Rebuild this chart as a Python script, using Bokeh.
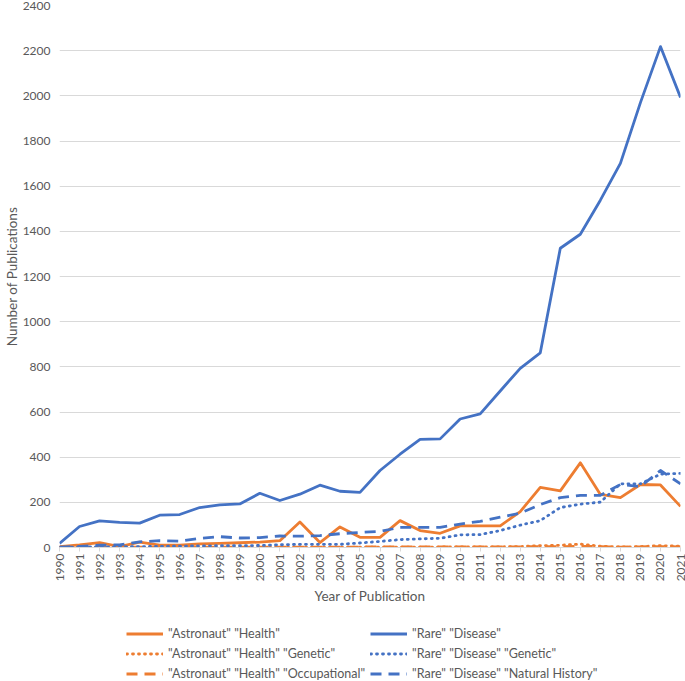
import math
from bokeh.plotting import figure
from bokeh.models import Legend, LegendItem, Range1d, FixedTicker
from bokeh.layouts import column
from bokeh.embed import file_html
from bokeh.resources import INLINE

years = list(range(1990, 2022))

astro_health = [4, 12, 22, 4, 24, 10, 10, 16, 18, 21, 24, 30, 113, 22, 91, 45,
                45, 119, 75, 63, 96, 96, 96, 159, 266, 251, 375, 235, 221, 279, 277, 182]
astro_health_genetic = [0, 1, 0, 0, 1, 0, 1, 0, 1, 0, 1, 1, 1, 1, 1, 2,
                        2, 2, 2, 2, 3, 3, 3, 4, 8, 10, 15, 6, 2, 4, 8, 6]
astro_health_occupational = [0, 1, 1, 1, 1, 1, 1, 1, 1, 2, 2, 2, 2, 2, 2, 2,
                             3, 3, 3, 3, 3, 3, 3, 3, 4, 4, 5, 4, 2, 3, 4, 3]
rare_disease = [18, 93, 118, 111, 108, 143, 146, 177, 189, 193, 240, 208, 236, 276, 249, 244,
                341, 413, 479, 481, 569, 592, 693, 793, 862, 1325, 1387, 1538, 1701, 1970, 2218, 1993]
rare_disease_genetic = [0, 2, 3, 3, 4, 5, 6, 7, 8, 8, 9, 12, 14, 14, 14, 20,
                        27, 35, 38, 41, 56, 57, 75, 99, 119, 177, 192, 201, 282, 282, 325, 328]
rare_disease_natural_history = [2, 5, 10, 12, 25, 30, 28, 40, 48, 42, 44, 51, 50, 53, 61, 67,
                                71, 89, 89, 89, 104, 116, 134, 152, 190, 221, 231, 231, 279, 270, 341, 282]

y_ticks = list(range(0, 2401, 200))

series_names = ['"Astronaut" "Health"', '"Astronaut" "Health" "Genetic"',
                '"Astronaut" "Health" "Occupational"', '"Rare" "Disease"',
                '"Rare" "Disease" "Genetic"', '"Rare" "Disease" "Natural History"']

ORANGE = "#ED7D31"
BLUE = "#4472C4"
FONT = "Lato"
GRAY = "#595959"
GRID = "#d9d9d9"
LW = 2.8

styles = [
    (ORANGE, "solid", "butt"),
    (ORANGE, "1 5", "round"),
    (ORANGE, "11 7", "butt"),
    (BLUE, "solid", "butt"),
    (BLUE, "1 5", "round"),
    (BLUE, "11 7", "butt"),
]
series = [astro_health, astro_health_genetic, astro_health_occupational,
          rare_disease, rare_disease_genetic, rare_disease_natural_history]

p = figure(width=685, height=612, output_backend="svg", toolbar_location=None,
           x_range=Range1d(1990, 2021), y_range=Range1d(0, 2400),
           min_border_top=5, min_border_right=5, min_border_left=58, min_border_bottom=65)
p.outline_line_color = None

for vals, (col, dash, cap) in zip(series, styles):
    p.line(years, vals, line_color=col, line_width=LW, line_dash=dash,
           line_cap=cap, line_join="round")

# axes
p.xaxis.ticker = FixedTicker(ticks=years)
p.xaxis.major_label_orientation = math.pi / 2
p.xaxis.axis_label = "Year of Publication"
p.xaxis.axis_line_color = GRID
p.xaxis.major_tick_line_color = GRID
p.xaxis.major_tick_in = 0
p.xaxis.major_tick_out = 4
p.xaxis.minor_tick_line_color = None
p.xaxis.major_label_standoff = 2
p.xaxis.axis_label_standoff = 4

p.yaxis.ticker = FixedTicker(ticks=y_ticks)
p.yaxis.axis_label = "Number of Publications"
p.yaxis.axis_line_color = None
p.yaxis.major_tick_line_color = None
p.yaxis.major_tick_in = 0
p.yaxis.major_tick_out = 0
p.yaxis.minor_tick_line_color = None
p.yaxis.minor_tick_out = 0
p.yaxis.major_label_standoff = 9
p.yaxis.axis_label_standoff = 0

for ax in (p.xaxis[0], p.yaxis[0]):
    ax.major_label_text_font = FONT
    ax.major_label_text_font_size = "12px"
    ax.major_label_text_color = GRAY
    ax.axis_label_text_font = FONT
    ax.axis_label_text_font_size = "13.5px"
    ax.axis_label_text_font_style = "normal"
    ax.axis_label_text_color = GRAY

p.xgrid.grid_line_color = None
p.ygrid.grid_line_color = GRID
p.ygrid.grid_line_width = 1

# legend strip below the chart (its lines fall outside its view; only the key shows)
lf = figure(width=685, height=69, output_backend="svg", toolbar_location=None,
            x_range=Range1d(0, 1), y_range=Range1d(0, 1),
            x_axis_location=None, y_axis_location=None,
            min_border_top=0, min_border_right=0, min_border_left=0, min_border_bottom=0)
lf.grid.visible = False
lf.outline_line_color = None
keys = []
for vals, (col, dash, cap) in zip(series, styles):
    keys.append(lf.line(years, vals, line_color=col, line_width=LW, line_dash=dash, line_cap=cap))

items = [LegendItem(label=series_names[i], renderers=[keys[i]]) for i in range(6)]
legend = Legend(items=items, ncols=2, location=(67, 0),
                label_text_font=FONT, label_text_font_size="12.5px", label_text_color=GRAY,
                glyph_width=37, glyph_height=15, spacing=5, padding=0, margin=0,
                label_standoff=5, border_line_color=None, background_fill_alpha=0)
lf.add_layout(legend, "center")

layout = column(p, lf, spacing=0)
open("out.html", "w").write(file_html(layout, INLINE))
